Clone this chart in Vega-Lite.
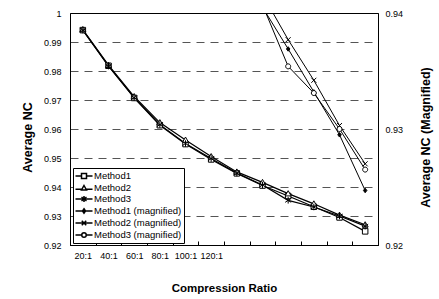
{
  "$schema": "https://vega.github.io/schema/vega-lite/v6.json",
  "width": 308,
  "height": 232,
  "autosize": {"type": "none"},
  "padding": {"left": 70, "top": 13, "right": 61, "bottom": 54},
  "background": "white",
  "config": {
    "view": {"stroke": "black", "strokeWidth": 1},
    "font": "Liberation Sans",
    "axis": {
      "labelFont": "Liberation Sans",
      "labelFontSize": 9,
      "labelColor": "black",
      "labelOverlap": false,
      "titleFont": "Liberation Sans",
      "titleFontWeight": "bold",
      "titleColor": "black",
      "domainColor": "black",
      "tickColor": "black"
    }
  },
  "data": {
    "values": [
      {"ratio": "20:1", "method": "Method1", "mag": "Method1 (magnified)", "nc": 0.9941},
      {"ratio": "40:1", "method": "Method1", "mag": "Method1 (magnified)", "nc": 0.9818},
      {"ratio": "60:1", "method": "Method1", "mag": "Method1 (magnified)", "nc": 0.9707},
      {"ratio": "80:1", "method": "Method1", "mag": "Method1 (magnified)", "nc": 0.9613},
      {"ratio": "100:1", "method": "Method1", "mag": "Method1 (magnified)", "nc": 0.9548},
      {"ratio": "120:1", "method": "Method1", "mag": "Method1 (magnified)", "nc": 0.9495},
      {"ratio": "140:1", "method": "Method1", "mag": "Method1 (magnified)", "nc": 0.9447},
      {"ratio": "160:1", "method": "Method1", "mag": "Method1 (magnified)", "nc": 0.9405},
      {"ratio": "180:1", "method": "Method1", "mag": "Method1 (magnified)", "nc": 0.9369},
      {"ratio": "200:1", "method": "Method1", "mag": "Method1 (magnified)", "nc": 0.9332},
      {"ratio": "220:1", "method": "Method1", "mag": "Method1 (magnified)", "nc": 0.9295},
      {"ratio": "240:1", "method": "Method1", "mag": "Method1 (magnified)", "nc": 0.9247},
      {"ratio": "20:1", "method": "Method2", "mag": "Method2 (magnified)", "nc": 0.9943},
      {"ratio": "40:1", "method": "Method2", "mag": "Method2 (magnified)", "nc": 0.982},
      {"ratio": "60:1", "method": "Method2", "mag": "Method2 (magnified)", "nc": 0.9712},
      {"ratio": "80:1", "method": "Method2", "mag": "Method2 (magnified)", "nc": 0.9622},
      {"ratio": "100:1", "method": "Method2", "mag": "Method2 (magnified)", "nc": 0.9562},
      {"ratio": "120:1", "method": "Method2", "mag": "Method2 (magnified)", "nc": 0.9505},
      {"ratio": "140:1", "method": "Method2", "mag": "Method2 (magnified)", "nc": 0.9452},
      {"ratio": "160:1", "method": "Method2", "mag": "Method2 (magnified)", "nc": 0.9416},
      {"ratio": "180:1", "method": "Method2", "mag": "Method2 (magnified)", "nc": 0.9377},
      {"ratio": "200:1", "method": "Method2", "mag": "Method2 (magnified)", "nc": 0.9342},
      {"ratio": "220:1", "method": "Method2", "mag": "Method2 (magnified)", "nc": 0.9303},
      {"ratio": "240:1", "method": "Method2", "mag": "Method2 (magnified)", "nc": 0.927},
      {"ratio": "20:1", "method": "Method3", "mag": "Method3 (magnified)", "nc": 0.9941},
      {"ratio": "40:1", "method": "Method3", "mag": "Method3 (magnified)", "nc": 0.9817},
      {"ratio": "60:1", "method": "Method3", "mag": "Method3 (magnified)", "nc": 0.9708},
      {"ratio": "80:1", "method": "Method3", "mag": "Method3 (magnified)", "nc": 0.9615},
      {"ratio": "100:1", "method": "Method3", "mag": "Method3 (magnified)", "nc": 0.955},
      {"ratio": "120:1", "method": "Method3", "mag": "Method3 (magnified)", "nc": 0.9498},
      {"ratio": "140:1", "method": "Method3", "mag": "Method3 (magnified)", "nc": 0.9448},
      {"ratio": "160:1", "method": "Method3", "mag": "Method3 (magnified)", "nc": 0.9407},
      {"ratio": "180:1", "method": "Method3", "mag": "Method3 (magnified)", "nc": 0.9354},
      {"ratio": "200:1", "method": "Method3", "mag": "Method3 (magnified)", "nc": 0.9331},
      {"ratio": "220:1", "method": "Method3", "mag": "Method3 (magnified)", "nc": 0.93},
      {"ratio": "240:1", "method": "Method3", "mag": "Method3 (magnified)", "nc": 0.9265}
    ]
  },
  "layer": [
    {
      "layer": [
        {
          "mark": {"type": "line", "color": "black", "strokeWidth": 1.2},
          "encoding": {
            "x": {
              "field": "ratio", "type": "ordinal", "title": "Compression Ratio", "bandPosition": 0.5,
              "scale": {"type": "band", "domain": ["20:1","40:1","60:1","80:1","100:1","120:1","140:1","160:1","180:1","200:1","220:1","240:1"], "paddingInner": 0, "paddingOuter": 0},
              "axis": {
                "tickBand": "extent",
                "labelExpr": "indexof(['20:1','40:1','60:1','80:1','100:1','120:1'], datum.value) >= 0 ? datum.label : ''",
                "labelAngle": 0, "tickSize": -4, "labelPadding": 10,
                "titleFontSize": 11.5, "titleY": 43, "titleBaseline": "middle"
              }
            },
            "y": {
              "field": "nc", "type": "quantitative",
              "scale": {"domain": [0.92, 1], "nice": false, "zero": false},
              "axis": {
                "title": "Average NC",
                "values": [0.92, 0.93, 0.94, 0.95, 0.96, 0.97, 0.98, 0.99, 1],
                "format": ".2~f", "tickSize": 0, "labelPadding": 9,
                "grid": true, "gridColor": "#555", "gridDash": [8, 6], "gridWidth": 1,
                "gridOpacity": {"condition": {"test": "datum.value > 0.995 || datum.value < 0.925", "value": 0}, "value": 1},
                "titleFontSize": 12.5, "titleX": -43, "titleY": 124, "titleBaseline": "middle", "titleAngle": 270
              }
            },
            "detail": {"field": "method"}
          }
        },
        {
          "mark": {"type": "point", "filled": true, "stroke": "black", "strokeWidth": 1, "size": 100, "opacity": 1},
          "encoding": {
            "x": {"field": "ratio", "type": "ordinal", "bandPosition": 0.5},
            "y": {
              "field": "nc", "type": "quantitative",
              "axis": {
                "title": "Average NC",
                "values": [0.92, 0.93, 0.94, 0.95, 0.96, 0.97, 0.98, 0.99, 1],
                "format": ".2~f", "tickSize": 0, "labelPadding": 9,
                "grid": true, "gridColor": "#555", "gridDash": [8, 6], "gridWidth": 1,
                "gridOpacity": {"condition": {"test": "datum.value > 0.995 || datum.value < 0.925", "value": 0}, "value": 1},
                "titleFontSize": 12.5, "titleX": -43, "titleY": 124, "titleBaseline": "middle", "titleAngle": 270
              }
            },
            "shape": {
              "field": "method", "type": "nominal", "legend": null,
              "scale": {
                "domain": ["Method1","Method2","Method3"],
                "range": [
                  "M-0.55,-0.55H0.55V0.55H-0.55Z",
                  "M0,-0.6L0.6,0.45H-0.6Z",
                  "M0,-0.65V0.65M-0.6,-0.4L0.6,0.4M-0.6,0.4L0.6,-0.4"
                ]
              }
            },
            "fill": {
              "field": "method", "type": "nominal", "legend": null,
              "scale": {"domain": ["Method1","Method2","Method3"], "range": ["white","white","black"]}
            }
          }
        }
      ]
    },
    {
      "layer": [
        {
          "mark": {"type": "line", "color": "black", "strokeWidth": 1, "clip": true},
          "encoding": {
            "x": {"field": "ratio", "type": "ordinal", "bandPosition": 0.5},
            "y": {
              "field": "nc", "type": "quantitative",
              "scale": {"domain": [0.92, 0.94], "nice": false, "zero": false},
              "axis": {
                "orient": "right", "title": "Average NC (Magnified)",
                "values": [0.92, 0.93, 0.94], "format": ".2f", "tickSize": 0, "labelPadding": 7, "grid": false,
                "titleFontSize": 12.5, "titleX": 47, "titleY": 124, "titleBaseline": "middle", "titleAngle": 270
              }
            },
            "detail": {"field": "mag"}
          }
        },
        {
          "mark": {"type": "point", "filled": true, "stroke": "black", "strokeWidth": 1, "size": 100, "opacity": 1, "clip": true},
          "encoding": {
            "x": {"field": "ratio", "type": "ordinal", "bandPosition": 0.5},
            "y": {
              "field": "nc", "type": "quantitative",
              "axis": {
                "orient": "right", "title": "Average NC (Magnified)",
                "values": [0.92, 0.93, 0.94], "format": ".2f", "tickSize": 0, "labelPadding": 7, "grid": false,
                "titleFontSize": 12.5, "titleX": 47, "titleY": 124, "titleBaseline": "middle", "titleAngle": 270
              }
            },
            "shape": {
              "field": "mag", "type": "nominal", "legend": null,
              "scale": {
                "domain": ["Method1 (magnified)","Method2 (magnified)","Method3 (magnified)"],
                "range": [
                  "M0,-0.45L0.35,0L0,0.45L-0.35,0Z",
                  "M-0.5,-0.5L0.5,0.5M-0.5,0.5L0.5,-0.5",
                  "M-0.5,0A0.5,0.5,0,1,0,0.5,0A0.5,0.5,0,1,0,-0.5,0Z"
                ]
              }
            },
            "fill": {
              "field": "mag", "type": "nominal", "legend": null,
              "scale": {"domain": ["Method1 (magnified)","Method2 (magnified)","Method3 (magnified)"], "range": ["black","white","white"]}
            }
          }
        }
      ]
    },
    {
      "transform": [{"fold": ["method", "mag"], "as": ["kind", "series"]}],
      "mark": {"type": "point", "filled": true, "stroke": "black", "strokeWidth": 1, "size": 100, "opacity": 0},
      "encoding": {
        "shape": {
          "field": "series", "type": "nominal",
          "scale": {
            "domain": ["Method1","Method2","Method3","Method1 (magnified)","Method2 (magnified)","Method3 (magnified)"],
            "range": [
              "M-1.7,0H-0.5M0.5,0H1.7M-0.5,-0.5H0.5V0.5H-0.5Z",
              "M-1.7,0.25H-0.3M0.3,0.25H1.7M0,-0.5L0.5,0.4H-0.5Z",
              "M-1.7,0H1.7M0,-0.6V0.6M-0.5,-0.4L0.5,0.4M-0.5,0.4L0.5,-0.4",
              "M-1.7,0H1.7M0,-0.45L0.3,0L0,0.45L-0.3,0Z",
              "M-1.7,0H1.7M-0.45,-0.45L0.45,0.45M-0.45,0.45L0.45,-0.45",
              "M-1.7,0H-0.45M0.45,0H1.7M-0.45,0A0.45,0.45,0,1,0,0.45,0A0.45,0.45,0,1,0,-0.45,0Z"
            ]
          },
          "legend": {
            "title": null, "orient": "none", "legendX": 3, "legendY": 155, "direction": "vertical",
            "padding": 2, "strokeColor": "black", "fillColor": "white", "cornerRadius": 0,
            "labelFont": "Liberation Sans", "labelFontSize": 9.5, "labelColor": "black",
            "symbolSize": 100, "symbolOpacity": 1, "symbolOffset": 3, "labelOffset": 4, "rowPadding": 0
          }
        },
        "fill": {
          "field": "series", "type": "nominal",
          "scale": {
            "domain": ["Method1","Method2","Method3","Method1 (magnified)","Method2 (magnified)","Method3 (magnified)"],
            "range": ["white","white","black","black","white","white"]
          },
          "legend": {
            "title": null, "orient": "none", "legendX": 3, "legendY": 155, "direction": "vertical",
            "padding": 2, "strokeColor": "black", "fillColor": "white", "cornerRadius": 0,
            "labelFont": "Liberation Sans", "labelFontSize": 9.5, "labelColor": "black",
            "symbolSize": 100, "symbolOpacity": 1, "symbolOffset": 3, "labelOffset": 4, "rowPadding": 0
          }
        }
      }
    }
  ],
  "resolve": {"scale": {"y": "independent", "shape": "independent", "fill": "independent"}}
}
